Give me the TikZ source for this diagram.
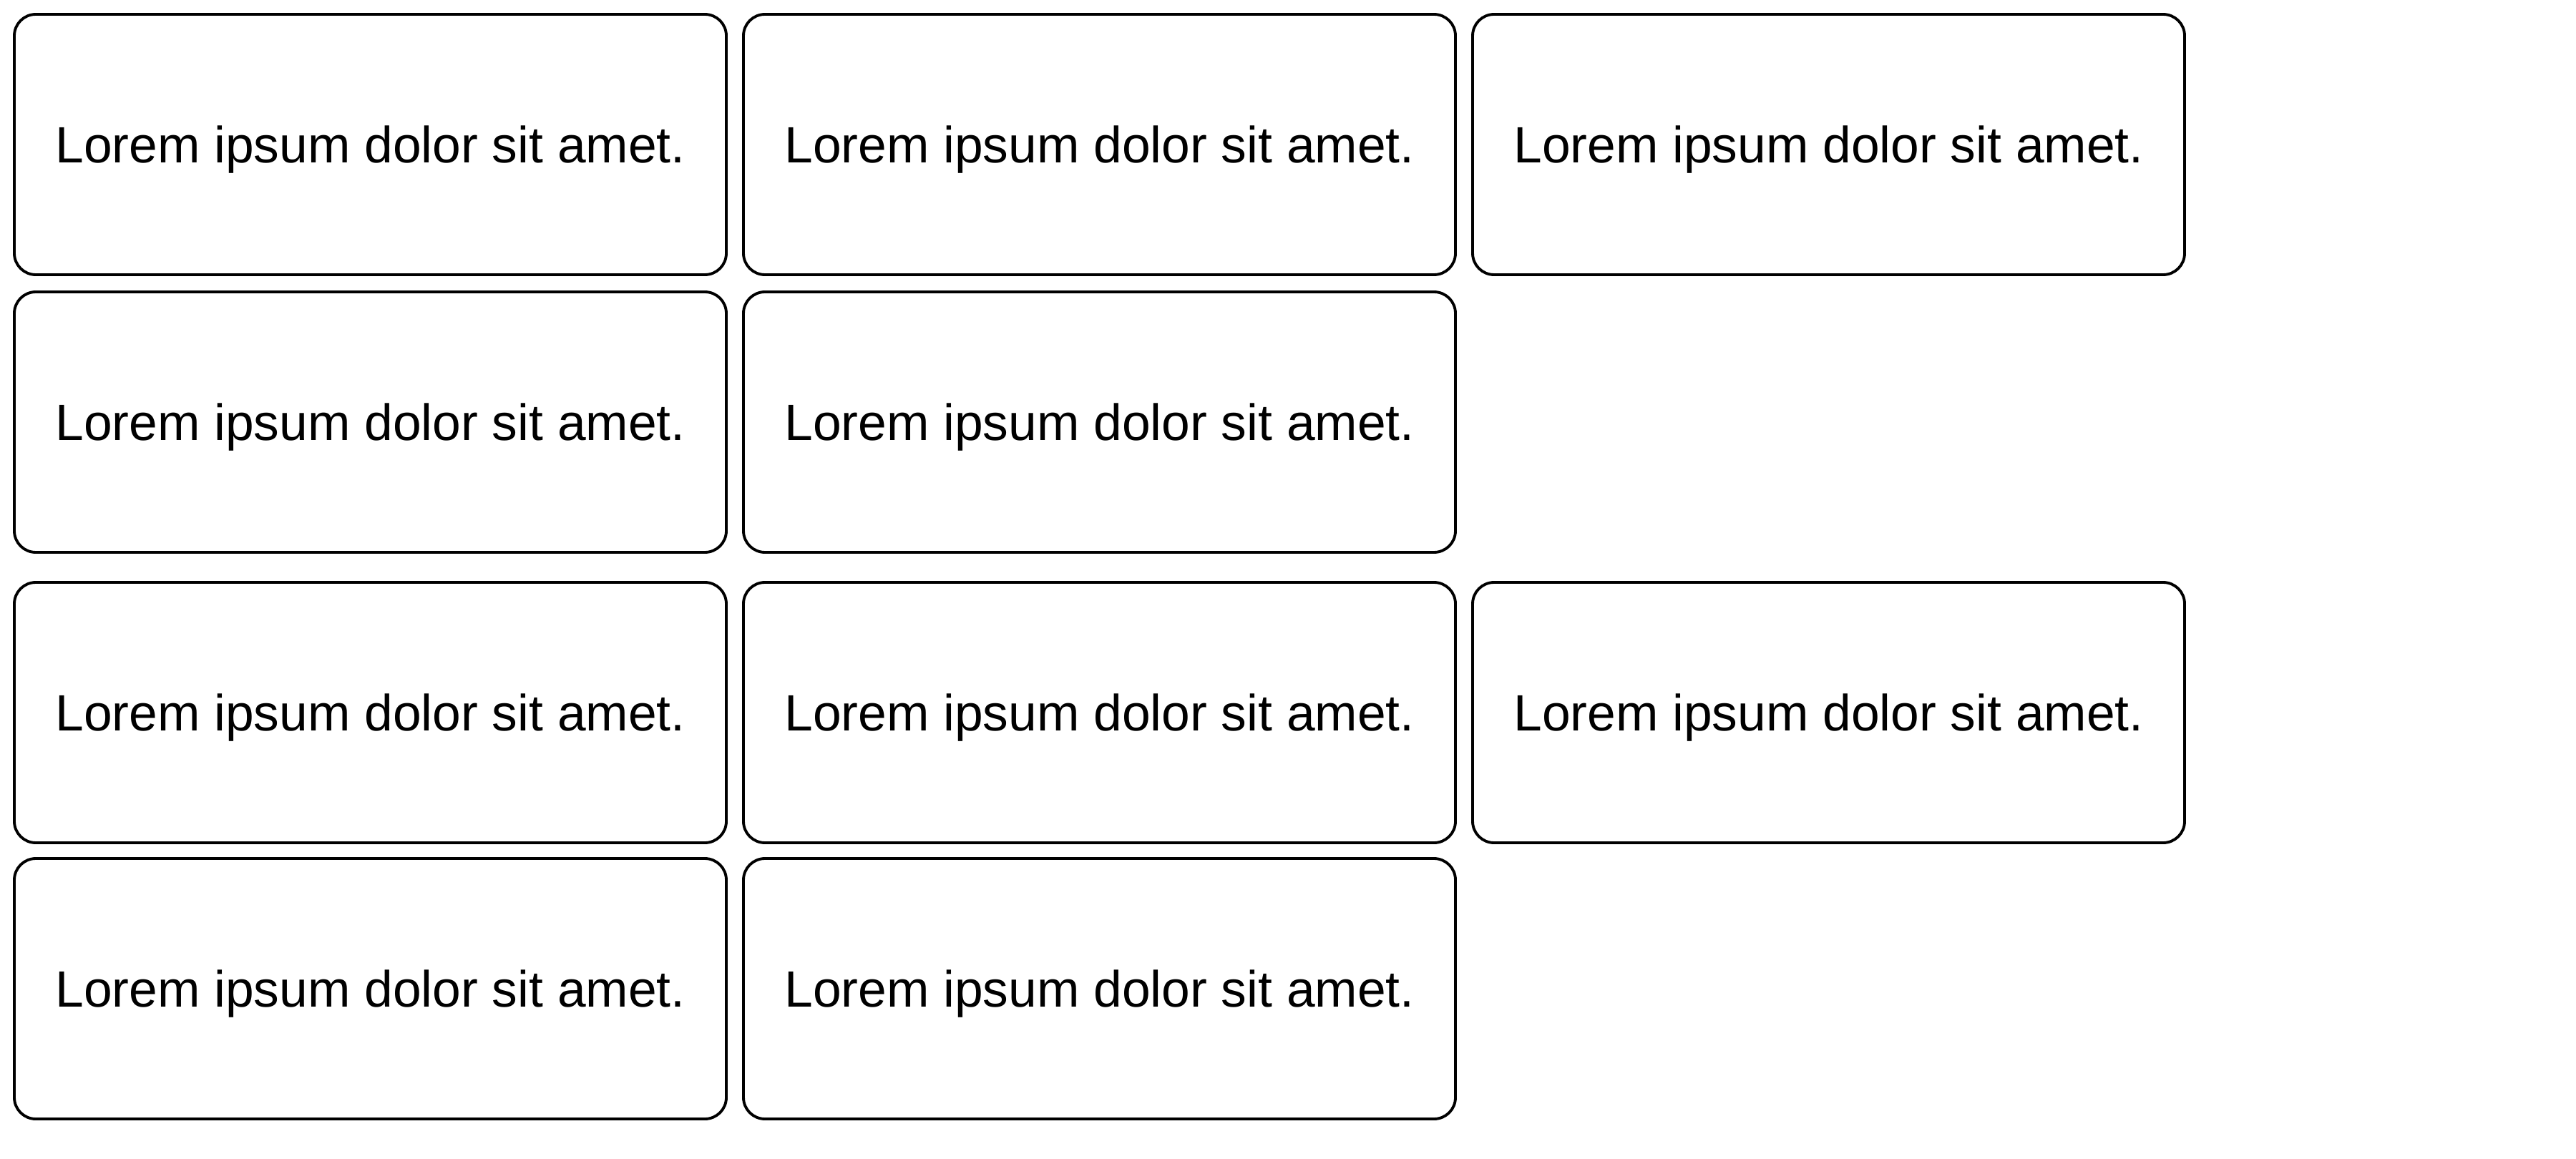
\documentclass[tikz,border=0pt]{standalone}
\usepackage{fontspec}
\setmainfont{Liberation Sans}
\usetikzlibrary{positioning}
\begin{document}
\begin{tikzpicture}[nodes={draw, rounded corners=0.3cm, minimum width=9.95cm, minimum height=3.64cm, outer sep=0pt, line width=1.1pt, text height=0.51cm, text depth=0pt, font=\fontsize{20.3}{24}\selectfont}]
    \useasboundingbox (0,0) rectangle (36,-16.2);
    \node (a1) at (5.175,-2.02) {Lorem ipsum dolor sit amet.};
    \node[right=0.24cm of a1] (a2) {Lorem ipsum dolor sit amet.};
    \node[right=0.24cm of a2] (a3) {Lorem ipsum dolor sit amet.};
    \node[below=0.24cm of a1] (b1) {Lorem ipsum dolor sit amet.};
    \node[right=0.24cm of b1] (b2) {Lorem ipsum dolor sit amet.};
    \node[below=0.42cm of b1] (c1) {Lorem ipsum dolor sit amet.};
    \node[right=0.24cm of c1] (c2) {Lorem ipsum dolor sit amet.};
    \node[right=0.24cm of c2] (c3) {Lorem ipsum dolor sit amet.};
    \node[below=0.22cm of c1] (d1) {Lorem ipsum dolor sit amet.};
    \node[right=0.24cm of d1] (d2) {Lorem ipsum dolor sit amet.};
  \end{tikzpicture}
\end{document}
